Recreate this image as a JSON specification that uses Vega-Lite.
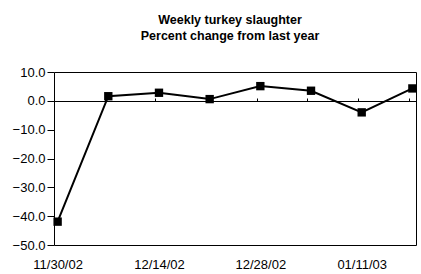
{
  "$schema": "https://vega.github.io/schema/vega-lite/v6.json",
  "autosize": "none",
  "padding": {"left": 54, "top": 72, "right": 4, "bottom": 29},
  "width": 362,
  "height": 173,
  "background": "white",
  "config": {
    "font": "Liberation Sans",
    "view": {"stroke": "#000", "strokeWidth": 1},
    "axis": {"labelFont": "Liberation Sans", "labelFontSize": 13, "labelColor": "#000", "tickColor": "#000", "domainColor": "#000", "grid": false, "title": null, "labelOverlap": false}
  },
  "title": {
    "text": ["Weekly turkey slaughter", "Percent change from last year"],
    "font": "Liberation Sans",
    "fontSize": 12.5,
    "fontWeight": "bold",
    "color": "#000",
    "anchor": "middle",
    "dx": -5,
    "offset": 24,
    "lineHeight": 15.5
  },
  "data": {
    "values": [
      {"date": "2002-11-30T00:00:00", "pct": -41.9},
      {"date": "2002-12-07T00:00:00", "pct": 1.6},
      {"date": "2002-12-14T00:00:00", "pct": 2.8},
      {"date": "2002-12-21T00:00:00", "pct": 0.6},
      {"date": "2002-12-28T00:00:00", "pct": 5.1},
      {"date": "2003-01-04T00:00:00", "pct": 3.5},
      {"date": "2003-01-11T00:00:00", "pct": -4.0},
      {"date": "2003-01-18T00:00:00", "pct": 4.3}
    ]
  },
  "encoding": {
    "y": {
      "field": "pct", "type": "quantitative",
      "scale": {"domain": [-50, 10]},
      "axis": {"values": [-50, -40, -30, -20, -10, 0, 10], "format": ".1f", "domain": false, "tickSize": 7, "labelPadding": 2, "labelOverlap": false, "labelFlush": false, "labelBound": false}
    }
  },
  "resolve": {"axis": {"x": "independent"}},
  "layer": [
    {
      "mark": {"type": "line", "color": "#000", "strokeWidth": 2},
      "encoding": {
        "x": {
          "field": "date", "type": "temporal",
          "scale": {"domain": [{"year": 2002, "month": 11, "date": 29, "hours": 12}, {"year": 2003, "month": 1, "date": 18, "hours": 12}]},
          "axis": {
            "orient": "bottom",
            "values": [
              {"year": 2002, "month": 11, "date": 30},
              {"year": 2002, "month": 12, "date": 14},
              {"year": 2002, "month": 12, "date": 28},
              {"year": 2003, "month": 1, "date": 11}
            ],
            "format": "%m/%d/%y",
            "domain": false, "ticks": false, "labelPadding": 13
          }
        }
      }
    },
    {
      "mark": {"type": "point", "shape": "square", "filled": true, "size": 70, "color": "#000", "opacity": 1},
      "encoding": {
        "x": {
          "field": "date", "type": "temporal",
          "axis": {
            "orient": "bottom",
            "offset": -144,
            "values": [
              {"year": 2002, "month": 11, "date": 29, "hours": 12},
              {"year": 2002, "month": 12, "date": 6, "hours": 12},
              {"year": 2002, "month": 12, "date": 13, "hours": 12},
              {"year": 2002, "month": 12, "date": 20, "hours": 12},
              {"year": 2002, "month": 12, "date": 27, "hours": 12},
              {"year": 2003, "month": 1, "date": 3, "hours": 12},
              {"year": 2003, "month": 1, "date": 10, "hours": 12},
              {"year": 2003, "month": 1, "date": 17, "hours": 12}
            ],
            "labels": false, "domain": true, "ticks": true, "tickSize": -3, "domainWidth": 1
          }
        }
      }
    }
  ]
}
